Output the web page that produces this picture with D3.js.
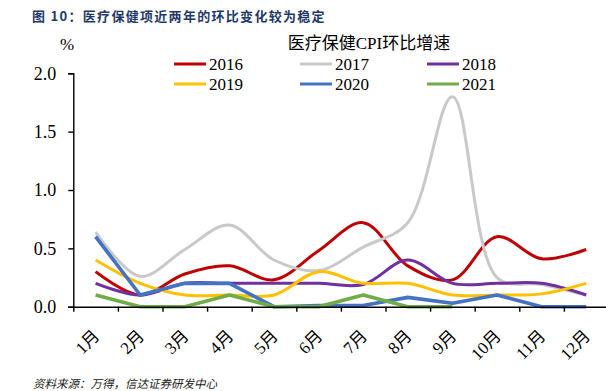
<!DOCTYPE html>
<html>
<head>
<meta charset="utf-8">
<script src="https://cdn.jsdelivr.net/npm/d3@7"></script>
<style>
  html, body { margin: 0; padding: 0; background: #fff; }
  svg { display: block; }
</style>
</head>
<body>
<svg id="chart" width="606" height="391"></svg>
<script>
const months = ["1月","2月","3月","4月","5月","6月","7月","8月","9月","10月","11月","12月"];
const yTicks = [0, 0.5, 1.0, 1.5, 2.0];
const seriesNames = ["2016","2017","2018","2019","2020","2021"];
const seriesColors = ["#C00000","#C9C9C9","#7030A0","#FFC000","#4472C4","#70AD47"];
const v2016 = [0.30, 0.10, 0.28, 0.35, 0.23, 0.48, 0.72, 0.35, 0.23, 0.60, 0.41, 0.49];
const v2017 = [0.64, 0.26, 0.49, 0.70, 0.40, 0.31, 0.51, 0.72, 1.80, 0.25, 0.19, 0.10];
const v2018 = [0.20, 0.10, 0.20, 0.20, 0.20, 0.20, 0.19, 0.40, 0.20, 0.20, 0.20, 0.10];
const v2019 = [0.40, 0.20, 0.10, 0.10, 0.10, 0.30, 0.20, 0.20, 0.10, 0.10, 0.11, 0.20];
const v2020 = [0.60, 0.10, 0.20, 0.20, 0.00, 0.01, 0.01, 0.08, 0.03, 0.10, 0.00, 0.00];
const v2021 = [0.10, 0.00, 0.00, 0.10, 0.00, 0.00, 0.10, 0.00, 0.00];
const seriesValues = [v2016, v2017, v2018, v2019, v2020, v2021];
const smoothed = [true, true, true, true, false, false];

const titleText = "图 10：医疗保健项近两年的环比变化较为稳定";
const legendTitle = "医疗保健CPI环比增速";
const sourceText = "资料来源：万得，信达证券研发中心";

const svg = d3.select("#chart");
const serif = "'Liberation Serif', 'Times New Roman', 'Noto Sans CJK SC', serif";

const left = 73.3, catW = 44.6;
const x = d3.scaleLinear().domain([0, 12]).range([left, left + 12 * catW]);
const y = d3.scaleLinear().domain([0, 2]).range([306.7, 73.3]);

// Title
svg.append("text")
  .attr("x", 32).attr("y", 21)
  .attr("font-family", "'Noto Sans CJK SC', sans-serif")
  .attr("font-weight", "bold")
  .attr("font-size", 13)
  .attr("letter-spacing", 1.3)
  .attr("fill", "#1F3A68")
  .text(titleText);

// Lines
seriesValues.forEach((vals, si) => {
  const line = d3.line()
    .x((d, i) => x(i + 0.5))
    .y(d => y(d))
    .curve(smoothed[si] ? d3.curveCatmullRom.alpha(0.5) : d3.curveLinear);
  svg.append("path")
    .datum(vals)
    .attr("fill", "none")
    .attr("stroke", seriesColors[si])
    .attr("stroke-width", si >= 4 ? 3.6 : 3)
    .attr("stroke-linejoin", "round")
    .attr("d", line);
});

// Y axis
const yAxis = d3.axisLeft(y).tickValues(yTicks).tickFormat(d3.format(".1f")).tickSize(5).tickPadding(12);
const gy = svg.append("g").attr("transform", `translate(${left},0)`).call(yAxis);
gy.select(".domain").attr("stroke", "#000").attr("stroke-width", 1.4);
gy.selectAll(".tick line").attr("stroke", "#000").attr("stroke-width", 1.4);
gy.selectAll(".tick text").attr("font-family", serif).attr("font-size", 18).attr("fill", "#000");

// X axis
const xAxis = d3.axisBottom(x).tickValues(d3.range(0, 13)).tickFormat("").tickSize(5).tickSizeOuter(0);
const gx = svg.append("g").attr("transform", `translate(0,${y(0)})`).call(xAxis);
gx.select(".domain").attr("stroke", "#000").attr("stroke-width", 1.4);
gx.selectAll(".tick line").attr("stroke", "#000").attr("stroke-width", 1.4);

svg.append("g").selectAll("text").data(months).join("text")
  .attr("transform", (d, i) => `translate(${x(i + 0.5) + 5},${337}) rotate(-45)`)
  .attr("text-anchor", "end")
  .attr("font-family", serif)
  .attr("font-size", 17)
  .attr("fill", "#000")
  .text(d => d);

// % unit
svg.append("text").attr("x", 67).attr("y", 50).attr("text-anchor", "middle")
  .attr("font-family", serif).attr("font-size", 17).text("%");

// Legend
svg.append("text").attr("x", 369).attr("y", 49).attr("text-anchor", "middle")
  .attr("font-family", serif).attr("font-size", 17).text(legendTitle);

const legX = [174, 300, 427];
const legY = [64, 84];
seriesNames.forEach((name, i) => {
  const lx = legX[i % 3], ly = legY[Math.floor(i / 3)];
  svg.append("line").attr("x1", lx).attr("x2", lx + 32).attr("y1", ly).attr("y2", ly)
    .attr("stroke", seriesColors[i]).attr("stroke-width", 3);
  svg.append("text").attr("x", lx + 35).attr("y", ly + 6)
    .attr("font-family", serif).attr("font-size", 17).text(name);
});

// Source
svg.append("text").attr("x", 33).attr("y", 388)
  .attr("font-family", "'Noto Sans CJK SC', sans-serif")
  .attr("font-size", 11.5)
  .attr("font-style", "italic")
  .attr("fill", "#222")
  .text(sourceText);
</script>
</body>
</html>
